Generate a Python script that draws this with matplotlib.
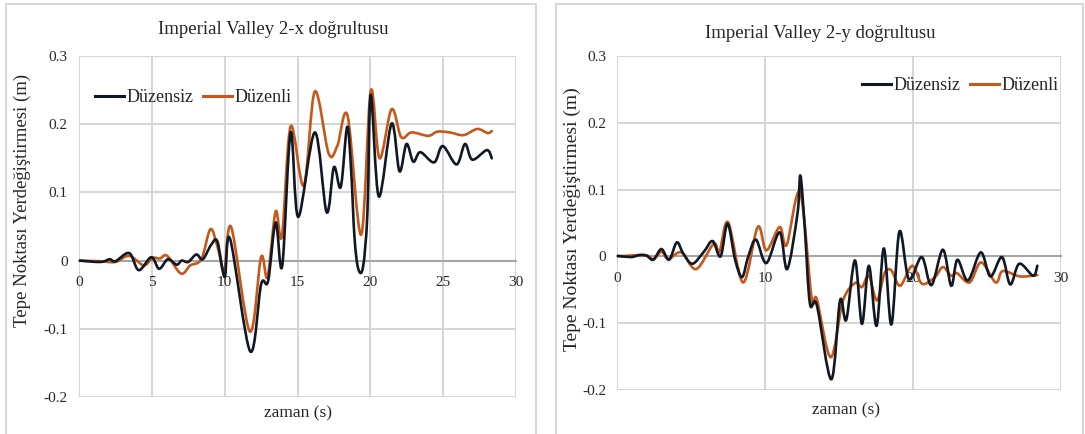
import numpy as np
import matplotlib
matplotlib.use("Agg")
import matplotlib.pyplot as plt
from matplotlib.path import Path
from matplotlib.patches import PathPatch, Rectangle
from matplotlib.lines import Line2D

plt.rcParams["font.family"] = ["Liberation Serif", "DejaVu Serif"]

# ---- Imperial Valley 2, x direction: top displacement (m) vs time (s) ----
x_dir_t_irr = [0, 1.5, 2.1, 2.5, 3.45, 4.1, 4.96, 5.5, 6.1, 6.7, 7.05, 7.5, 8.05, 8.5,
               9.07, 9.5, 10.0, 10.37, 11.75, 12.5, 12.98, 13.5, 13.95, 14.53, 15.05,
               16.19, 17.0, 17.5, 17.97, 18.41, 18.68, 18.91, 19.17, 19.5, 19.8, 20.03,
               20.58, 21.46, 22.0, 22.48, 22.95, 23.43, 24.38, 24.97, 25.92, 26.5, 27.0,
               28.0, 28.34]
x_dir_irr = [0, -0.002, 0.002, -0.001, 0.011, -0.014, 0.005, -0.012, 0.002, -0.006, 0,
             -0.002, 0.009, 0.002, 0.023, 0.028, -0.024, 0.032, -0.133, -0.035, -0.030,
             0.056, -0.008, 0.188, 0.064, 0.188, 0.071, 0.137, 0.108, 0.196, 0.133,
             0.035, -0.012, -0.009, 0.07, 0.243, 0.094, 0.201, 0.131, 0.171, 0.145,
             0.159, 0.144, 0.168, 0.141, 0.171, 0.148, 0.162, 0.150]

x_dir_t_reg = [0, 1.5, 2.5, 3.45, 4.45, 5.03, 5.55, 6.05, 7.0, 7.64, 8.4, 9.02, 9.5,
               9.97, 10.45, 11.73, 12.5, 12.94, 13.5, 13.93, 14.53, 15.43, 16.19, 17.14,
               17.73, 18.44, 19.37, 20.03, 20.63, 21.46, 22.12, 22.83, 23.97, 24.6, 25.45,
               26.4, 27.34, 28.05, 28.34]
x_dir_reg = [0, -0.001, -0.002, 0.007, -0.007, 0.004, 0.003, 0.007, -0.019, -0.007,
             0.002, 0.046, 0.021, -0.014, 0.049, -0.104, 0.005, -0.024, 0.072, 0.036,
             0.197, 0.110, 0.248, 0.157, 0.168, 0.212, 0.038, 0.249, 0.150, 0.222,
             0.181, 0.188, 0.183, 0.189, 0.188, 0.184, 0.193, 0.187, 0.190]

# ---- Imperial Valley 2, y direction ----
y_dir_t_irr = [0, 0.94, 1.53, 2.0, 2.46, 3.0, 3.52, 4.04, 4.46, 5.09, 5.87, 6.46, 7.0,
               7.47, 7.98, 8.45, 8.87, 9.39, 10.09, 10.99, 11.5, 12.2, 12.39, 12.68,
               13.03, 13.5, 14.48, 15.07, 15.49, 16.08, 16.55, 17.02, 17.54, 18.03,
               18.54, 19.08, 19.72, 20.59, 21.24, 22.02, 22.58, 23.0, 23.71, 24.58,
               25.23, 26.01, 26.57, 27.18, 28.12, 28.4]
y_dir_irr = [0.001, -0.001, 0.002, 0.001, -0.005, 0.011, -0.005, 0.021, 0.005, -0.011,
             0.007, 0.023, 0, 0.049, -0.005, -0.031, 0, 0.025, -0.010, 0.036, -0.019,
             0.065, 0.121, 0.045, -0.070, -0.073, -0.184, -0.066, -0.095, -0.006,
             -0.101, -0.014, -0.104, 0.012, -0.102, 0.037, -0.034, -0.001, -0.043,
             0.010, -0.044, -0.005, -0.036, 0.006, -0.030, -0.001, -0.042, -0.011,
             -0.029, -0.014]

y_dir_t_reg = [0, 1.88, 2.46, 3.0, 3.47, 4.34, 5.35, 6.53, 6.92, 7.51, 8.52, 9.51,
               10.09, 10.99, 11.46, 12.37, 13.15, 13.5, 14.44, 15.26, 16.08, 16.55,
               17.02, 17.56, 18.08, 18.54, 19.13, 19.95, 20.61, 21.48, 22.02, 22.58,
               22.96, 23.83, 24.6, 25.59, 26.06, 27.23, 28.4]
y_dir_reg = [0, 0.002, -0.004, 0.007, -0.004, 0.006, -0.019, 0.019, 0.007, 0.051,
             -0.039, 0.044, 0.009, 0.044, 0.017, 0.096, -0.062, -0.064, -0.151, -0.067,
             -0.040, -0.046, -0.029, -0.066, -0.025, -0.021, -0.044, -0.014, -0.041,
             -0.031, -0.016, -0.029, -0.025, -0.039, -0.009, -0.039, -0.022, -0.030,
             -0.028]

series_names = ["Düzensiz", "Düzenli"]
titles = ["Imperial Valley 2-x doğrultusu", "Imperial Valley 2-y doğrultusu"]
y_ticks = [-0.2, -0.1, 0.0, 0.1, 0.2, 0.3]
y_tick_labels = ["-0.2", "-0.1", "0", "0.1", "0.2", "0.3"]
x_ticks_left = [0, 5, 10, 15, 20, 25, 30]
x_ticks_right = [0, 10, 20, 30]

C_IRR = "#101824"
C_REG = "#c5581a"
GRID = "#d2d2d2"
AXIS = "#a6a6a6"
TXT = "#262626"


def smooth_path(xs, ys, tension=1.0):
    """Catmull-Rom style smoothed line expressed as cubic Bezier segments."""
    p = np.column_stack([xs, ys]).astype(float)
    n = len(p)
    verts = [p[0]]
    codes = [Path.MOVETO]
    for i in range(n - 1):
        p0 = p[i - 1] if i > 0 else p[i]
        p1 = p[i]
        p2 = p[i + 1]
        p3 = p[i + 2] if i + 2 < n else p[i + 1]
        c1 = p1 + (p2 - p0) / 6.0 * tension
        c2 = p2 - (p3 - p1) / 6.0 * tension
        verts += [c1, c2, p2]
        codes += [Path.CURVE4] * 3
    return Path(np.array(verts), codes)


W, H = 1085, 434
fig = plt.figure(figsize=(W / 100, H / 100), dpi=100)

# panel frames
fig.patches.append(Rectangle((6 / W, -0.01), 530 / W, 1 - 4 / H + 0.01,
                             transform=fig.transFigure, fill=False,
                             edgecolor="#d0d0d0", lw=1.2))
fig.patches.append(Rectangle((556 / W, -0.01), 527 / W, 1 - 4 / H + 0.01,
                             transform=fig.transFigure, fill=False,
                             edgecolor="#d0d0d0", lw=1.2))

panels = [
    dict(rect=(79 / W, 1 - 397 / H, 437 / W, 341 / H),
         data=[(x_dir_t_irr, x_dir_irr), (x_dir_t_reg, x_dir_reg)],
         xticks=x_ticks_left, title_y=30, title_x=273,
         ylabel_x=22, ylabel_y=200, ylabel_fs=13.5, xlabel_y=413, xlabel_x=298,
         leg_x=95, leg_y=98, ypad=8.2),
    dict(rect=(617 / W, 1 - 390 / H, 444 / W, 334 / H),
         data=[(y_dir_t_irr, y_dir_irr), (y_dir_t_reg, y_dir_reg)],
         xticks=x_ticks_right, title_y=33, title_x=820,
         ylabel_x=572, ylabel_y=219, ylabel_fs=14, xlabel_y=410, xlabel_x=846,
         leg_x=862, leg_y=86, ypad=7.6),
]

for k, pn in enumerate(panels):
    ax = fig.add_axes(pn["rect"])
    ax.set_xlim(0, 30)
    ax.set_ylim(-0.2, 0.3)
    ax.set_xticks(pn["xticks"])
    ax.set_xticklabels([str(v) for v in pn["xticks"]])
    ax.set_yticks(y_ticks)
    ax.set_yticklabels(y_tick_labels)
    ax.grid(True, color=GRID, lw=1.3)
    ax.set_axisbelow(True)
    for s in ["top", "right", "left"]:
        ax.spines[s].set_visible(False)
    ax.spines["bottom"].set_position(("data", 0))
    ax.spines["bottom"].set_color(AXIS)
    ax.spines["bottom"].set_linewidth(1.5)
    ax.tick_params(length=0, labelsize=11, colors=TXT)
    ax.tick_params(axis="x", pad=11)
    ax.tick_params(axis="y", pad=pn["ypad"])

    for (ts, vs), col in zip(pn["data"], [C_IRR, C_REG]):
        ax.add_patch(PathPatch(smooth_path(ts, vs), fill=False, edgecolor=col,
                               lw=1.9, capstyle="round", joinstyle="round",
                               zorder=3 if col == C_REG else 4))

    handles = [Line2D([], [], color=C_IRR, lw=2.2), Line2D([], [], color=C_REG, lw=2.2)]
    fig.legend(handles, series_names, loc="center left",
               bbox_to_anchor=(pn["leg_x"] / W, 1 - pn["leg_y"] / H),
               ncol=2, frameon=False, fontsize=13, handlelength=1.6,
               handletextpad=0.12, columnspacing=0.55, borderaxespad=0,
               borderpad=0, labelcolor=TXT)

    fig.text(pn["title_x"] / W, 1 - pn["title_y"] / H, titles[k], ha="center",
             va="center", fontsize=13.5, color=TXT)
    fig.text(pn["ylabel_x"] / W, 1 - pn["ylabel_y"] / H,
             "Tepe Noktası Yerdeğiştirmesi (m)", rotation=90, ha="center",
             va="center", fontsize=pn["ylabel_fs"], color=TXT)
    fig.text(pn["xlabel_x"] / W, 1 - pn["xlabel_y"] / H, "zaman (s)", ha="center",
             va="center", fontsize=12.5, color=TXT)

fig.savefig("out.png", dpi=100)
